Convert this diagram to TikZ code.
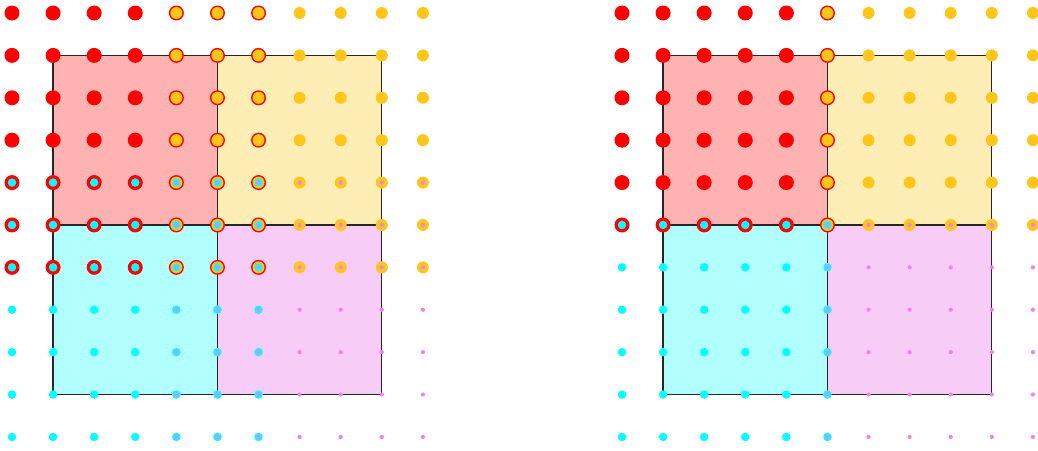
\documentclass[tikz,border=0pt]{standalone}
\usetikzlibrary{calc}

\definecolor{dotred}{HTML}{FF0000}
\definecolor{dotyellow}{HTML}{FFC61A}
\definecolor{dotcyan}{HTML}{00FFFF}
\definecolor{dotviolet}{HTML}{EE82EE}
\definecolor{boxred}{HTML}{FFB2B2}
\definecolor{boxyellow}{HTML}{FFEDB6}
\definecolor{boxcyan}{HTML}{B2FFFF}
\definecolor{boxviolet}{HTML}{F7CDF7}

\begin{document}
\begin{tikzpicture}[
        x=0.02cm, y=-0.02cm,
        quadbox/.style={draw=black!85, line width=0.7pt},
        reddot/.style={fill=dotred},
        yellowdot/.style={fill=dotyellow},
        cyandot/.style={fill=dotcyan},
        violetdot/.style={fill=dotviolet},
    ]
        \useasboundingbox (0,0) rectangle (1038,450);

        % Left panel: overlapping 7x7 blocks
        \begin{scope}[shift={(12,13)}, x=0.822cm, y=-0.848cm]
            % Quadrants
            \filldraw[quadbox, fill=boxred] (1,1) rectangle (5,5);
            \filldraw[quadbox, fill=boxyellow] (5,1) rectangle (9,5);
            \filldraw[quadbox, fill=boxcyan] (1,5) rectangle (5,9);
            \filldraw[quadbox, fill=boxviolet] (5,5) rectangle (9,9);

            % Dot layers
            \foreach \i in {0,...,6} \foreach \j in {0,...,6}
                \fill[reddot] (\i,\j) circle[radius=0.15cm];
            \foreach \i in {4,...,10} \foreach \j in {0,...,6}
                \fill[yellowdot] (\i,\j) circle[radius=0.12cm];
            \foreach \i in {0,...,6} \foreach \j in {4,...,10}
                \fill[cyandot] (\i,\j) circle[radius=0.085cm];
            \foreach \i in {4,...,10} \foreach \j in {4,...,10}
                \fill[violetdot] (\i,\j) circle[radius=0.042cm];
        \end{scope}

        % Right panel: disjoint blocks sharing one line
        \begin{scope}[shift={(622,13)}, x=0.822cm, y=-0.848cm]
            % Quadrants
            \filldraw[quadbox, fill=boxred] (1,1) rectangle (5,5);
            \filldraw[quadbox, fill=boxyellow] (5,1) rectangle (9,5);
            \filldraw[quadbox, fill=boxcyan] (1,5) rectangle (5,9);
            \filldraw[quadbox, fill=boxviolet] (5,5) rectangle (9,9);

            % Dot layers
            \foreach \i in {0,...,5} \foreach \j in {0,...,5}
                \fill[reddot] (\i,\j) circle[radius=0.15cm];
            \foreach \i in {5,...,10} \foreach \j in {0,...,5}
                \fill[yellowdot] (\i,\j) circle[radius=0.12cm];
            \foreach \i in {0,...,5} \foreach \j in {5,...,10}
                \fill[cyandot] (\i,\j) circle[radius=0.085cm];
            \foreach \i in {5,...,10} \foreach \j in {5,...,10}
                \fill[violetdot] (\i,\j) circle[radius=0.042cm];
        \end{scope}
    \end{tikzpicture}
\end{document}
